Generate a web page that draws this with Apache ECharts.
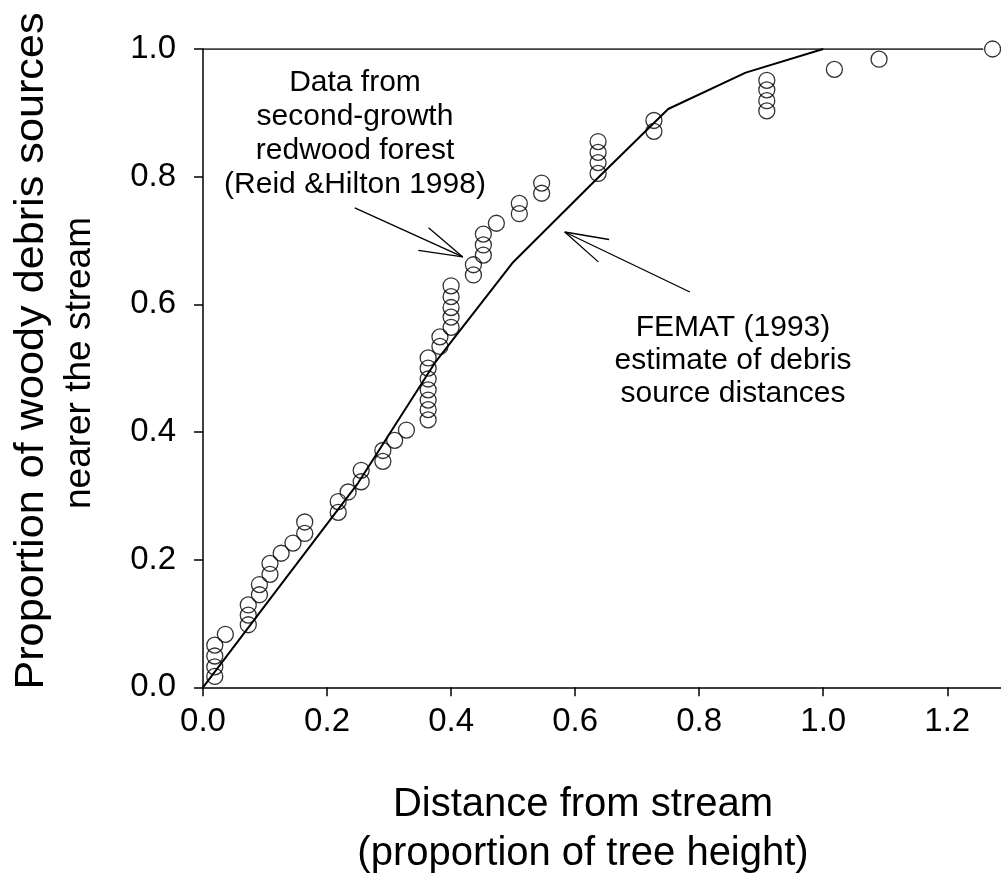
<!DOCTYPE html>
<html>
<head>
<meta charset="utf-8">
<script src="https://cdn.jsdelivr.net/npm/echarts@6/dist/echarts.min.js"></script>
<style>html,body{margin:0;padding:0;background:#fff;}#c{width:1001px;height:880px;}</style>
</head>
<body>
<div id="c"></div>
<script>
// Observed data (Reid & Hilton 1998): distance (proportion of tree height)
const obsX = [0.019,0.019,0.019,0.019,0.036,0.073,0.073,0.073,0.091,0.091,0.108,0.108,0.126,0.145,0.164,0.164,
  0.218,0.218,0.234,0.255,0.255,0.290,0.290,0.309,0.328,
  0.363,0.363,0.363,0.363,0.363,0.363,0.363,0.382,0.382,
  0.400,0.400,0.400,0.400,0.400,0.436,0.436,0.452,0.452,0.452,0.473,0.510,0.510,0.546,0.546,
  0.637,0.637,0.637,0.637,0.727,0.727,0.909,0.909,0.909,0.909,1.018,1.090,1.273];
// Observed cumulative proportion of woody debris sources
const obsY = [0.017,0.032,0.049,0.066,0.083,0.098,0.113,0.129,0.145,0.161,0.177,0.194,0.210,0.226,0.241,0.259,
  0.274,0.291,0.306,0.322,0.340,0.354,0.371,0.387,0.403,
  0.419,0.435,0.450,0.466,0.483,0.500,0.516,0.534,0.549,
  0.564,0.580,0.595,0.612,0.629,0.646,0.662,0.677,0.693,0.710,0.727,0.742,0.758,0.774,0.790,
  0.805,0.822,0.838,0.855,0.871,0.888,0.903,0.919,0.936,0.951,0.968,0.984,1.000];
// FEMAT (1993) curve
const femX = [0, 0.125, 0.25, 0.375, 0.5, 0.625, 0.75, 0.875, 1.0];
const femY = [0, 0.16, 0.32, 0.51, 0.666, 0.787, 0.906, 0.963, 1.0];
// Reference line at 1.0
const topX = [0, 1.258];
const topY = [1.0, 1.0];
// Tick values
const xTicks = [0, 0.2, 0.4, 0.6, 0.8, 1.0, 1.2];
const yTicks = [0, 0.2, 0.4, 0.6, 0.8, 1.0];
// Arrows [tailX, tailY, tipX, tipY]
const arrowData = [0.2447, 0.7511, 0.4189, 0.6743];
const arrowFemat = [0.785, 0.6193, 0.5832, 0.7133];
// Texts
const yTitle1 = 'Proportion of woody debris sources';
const yTitle2 = 'nearer the stream';
const xTitle = 'Distance from stream\n(proportion of tree height)';
const noteData = 'Data from\nsecond-growth\nredwood forest\n(Reid &Hilton 1998)';
const noteFemat = 'FEMAT (1993)\nestimate of debris\nsource distances';

const FONT = '"Liberation Sans", Arial, sans-serif';
const chart = echarts.init(document.getElementById('c'), null, {renderer: 'canvas'});

const scatterData = obsX.map((x, i) => [x, obsY[i]]);
const femData = femX.map((x, i) => [x, femY[i]]);
const topData = topX.map((x, i) => [x, topY[i]]);

function arrowRender(params, api) {
  const tail = api.coord([api.value(0), api.value(1)]);
  const tip = api.coord([api.value(2), api.value(3)]);
  const ang = Math.atan2(tail[1] - tip[1], tail[0] - tip[0]);
  const L = 45, a = 16 * Math.PI / 180;
  const h1 = [tip[0] + L * Math.cos(ang + a), tip[1] + L * Math.sin(ang + a)];
  const h2 = [tip[0] + L * Math.cos(ang - a), tip[1] + L * Math.sin(ang - a)];
  const st = {stroke: '#000', lineWidth: 1.3, fill: null};
  return {type: 'group', children: [
    {type: 'line', shape: {x1: tail[0], y1: tail[1], x2: tip[0], y2: tip[1]}, style: st},
    {type: 'line', shape: {x1: tip[0], y1: tip[1], x2: h1[0], y2: h1[1]}, style: st},
    {type: 'line', shape: {x1: tip[0], y1: tip[1], x2: h2[0], y2: h2[1]}, style: st}
  ]};
}

const axisCommon = {
  axisLine: {show: true, lineStyle: {color: '#000', width: 1.5}},
  axisTick: {show: true, inside: false, length: 9, lineStyle: {color: '#000', width: 1.5}},
  splitLine: {show: false}
};

chart.setOption({
  animation: false,
  backgroundColor: '#fff',
  grid: {left: 203, right: 0, top: 49, bottom: 192.7, containLabel: false},
  xAxis: Object.assign({}, axisCommon, {
    type: 'value', min: 0, max: 1.2866, interval: 0.2,
    axisTick: Object.assign({}, axisCommon.axisTick, {customValues: xTicks}),
    axisLabel: {customValues: xTicks, margin: 18, color: '#000', fontSize: 33, fontFamily: FONT,
      formatter: v => v.toFixed(1)}
  }),
  yAxis: Object.assign({}, axisCommon, {
    type: 'value', min: 0, max: 1, interval: 0.2,
    axisTick: Object.assign({}, axisCommon.axisTick, {customValues: yTicks}),
    axisLabel: {customValues: yTicks, margin: 27, color: '#000', fontSize: 33, fontFamily: FONT,
      formatter: v => v.toFixed(1)}
  }),
  series: [
    {type: 'line', data: topData, symbol: 'none', lineStyle: {color: '#000', width: 1.5}, z: 2},
    {type: 'line', data: femData, symbol: 'none', lineStyle: {color: '#000', width: 2}, z: 3},
    {type: 'scatter', data: scatterData, symbol: 'circle', symbolSize: 16,
      itemStyle: {color: 'rgba(0,0,0,0)', borderColor: '#000', borderWidth: 1.3}, z: 4},
    {type: 'custom', renderItem: arrowRender, data: [arrowData, arrowFemat], z: 5, silent: true}
  ],
  graphic: [
    {type: 'text', x: 32, y: 351, rotation: Math.PI / 2, scaleX: 1.08,
      style: {text: yTitle1, font: '40px ' + FONT, fill: '#000', align: 'center', verticalAlign: 'middle'}},
    {type: 'text', x: 80, y: 363, rotation: Math.PI / 2,
      style: {text: yTitle2, font: '37px ' + FONT, fill: '#000', align: 'center', verticalAlign: 'middle'}},
    {type: 'text', x: 583, y: 829.5,
      style: {text: xTitle, font: '40px ' + FONT, fill: '#000', align: 'center', verticalAlign: 'middle', lineHeight: 49}},
    {type: 'text', x: 355, y: 134,
      style: {text: noteData, font: '30px ' + FONT, fill: '#000', align: 'center', verticalAlign: 'middle', lineHeight: 34}},
    {type: 'text', x: 733, y: 361,
      style: {text: noteFemat, font: '30px ' + FONT, fill: '#000', align: 'center', verticalAlign: 'middle', lineHeight: 33}}
  ]
});
</script>
</body>
</html>
